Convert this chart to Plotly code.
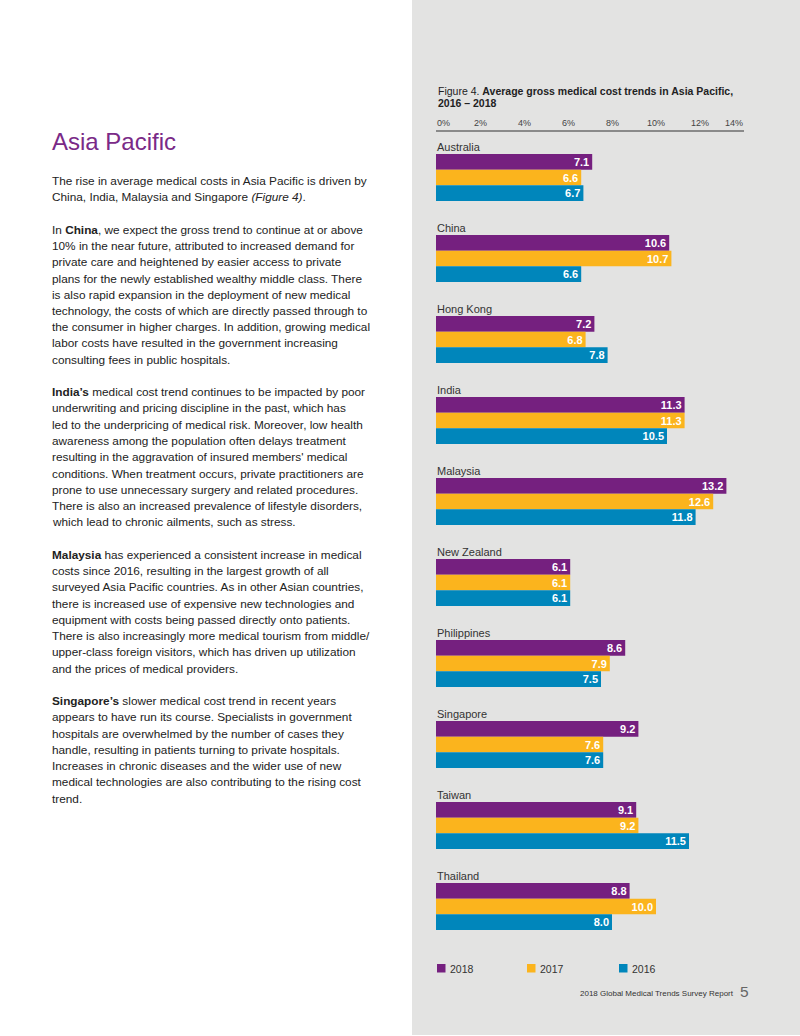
import plotly.graph_objects as go

W, H = 800, 1036
FONT = "Liberation Sans, Arial, sans-serif"

# ---------------- data ----------------
countries = ["Australia", "China", "Hong Kong", "India", "Malaysia",
             "New Zealand", "Philippines", "Singapore", "Taiwan", "Thailand"]
v2018 = [7.1, 10.6, 7.2, 11.3, 13.2, 6.1, 8.6, 9.2, 9.1, 8.8]
v2017 = [6.6, 10.7, 6.8, 11.3, 12.6, 6.1, 7.9, 7.6, 9.2, 10.0]
v2016 = [6.7, 6.6, 7.8, 10.5, 11.8, 6.1, 7.5, 7.6, 11.5, 8.0]
years = ["2018", "2017", "2016"]
colors = ["#75207f", "#fbb41d", "#0086bb"]
tick_vals = [0, 2, 4, 6, 8, 10, 12, 14]
tick_text = ["0%", "2%", "4%", "6%", "8%", "10%", "12%", "14%"]

body_lines = [
    "The rise in average medical costs in Asia Pacific is driven by",
    "China, India, Malaysia and Singapore <i>(Figure 4)</i>.",
    "",
    "In <b>China</b>, we expect the gross trend to continue at or above",
    "10% in the near future, attributed to increased demand for",
    "private care and heightened by easier access to private",
    "plans for the newly established wealthy middle class. There",
    "is also rapid expansion in the deployment of new medical",
    "technology, the costs of which are directly passed through to",
    "the consumer in higher charges. In addition, growing medical",
    "labor costs have resulted in the government increasing",
    "consulting fees in public hospitals.",
    "",
    "<b>India’s</b> medical cost trend continues to be impacted by poor",
    "underwriting and pricing discipline in the past, which has",
    "led to the underpricing of medical risk. Moreover, low health",
    "awareness among the population often delays treatment",
    "resulting in the aggravation of insured members' medical",
    "conditions. When treatment occurs, private practitioners are",
    "prone to use unnecessary surgery and related procedures.",
    "There is also an increased prevalence of lifestyle disorders,",
    "which lead to chronic ailments, such as stress.",
    "",
    "<b>Malaysia</b> has experienced a consistent increase in medical",
    "costs since 2016, resulting in the largest growth of all",
    "surveyed Asia Pacific countries. As in other Asian countries,",
    "there is increased use of expensive new technologies and",
    "equipment with costs being passed directly onto patients.",
    "There is also increasingly more medical tourism from middle/",
    "upper-class foreign visitors, which has driven up utilization",
    "and the prices of medical providers.",
    "",
    "<b>Singapore’s</b> slower medical cost trend in recent years",
    "appears to have run its course. Specialists in government",
    "hospitals are overwhelmed by the number of cases they",
    "handle, resulting in patients turning to private hospitals.",
    "Increases in chronic diseases and the wider use of new",
    "medical technologies are also contributing to the rising cost",
    "trend.",
]


def py(p):
    return 1 - p / H


def px(p):
    return p / W


fig = go.Figure()
for name, vals, col in zip(years, [v2018, v2017, v2016], colors):
    fig.add_trace(go.Bar(
        y=countries, x=vals, name=name, orientation="h",
        marker=dict(color=col, line=dict(width=0)),
        texttemplate="%{x:.1f}", textposition="inside", insidetextanchor="end",
        constraintext="none",
        textfont=dict(color="white", size=11, family=FONT, weight=700),
        cliponaxis=False,
    ))

annotations = []
# chart title
annotations.append(dict(xref="paper", yref="paper", x=px(436), y=py(91), xanchor="left", yanchor="middle",
                        text="Figure 4. <b>Average gross medical cost trends in Asia Pacific,</b>",
                        showarrow=False, font=dict(family=FONT, size=10.5, color="#222222")))
annotations.append(dict(xref="paper", yref="paper", x=px(436), y=py(103), xanchor="left", yanchor="middle",
                        text="<b>2016 – 2018</b>",
                        showarrow=False, font=dict(family=FONT, size=10.5, color="#222222")))
# tick labels
for i, (tv, tt) in enumerate(zip(tick_vals, tick_text)):
    anchor = "left" if i == 0 else ("right" if i == len(tick_vals) - 1 else "center")
    annotations.append(dict(xref="x", yref="paper", x=tv, y=py(123), xanchor=anchor, yanchor="middle",
                            text=tt, showarrow=False, borderpad=0,
                            font=dict(family=FONT, size=9, color="#444444")))
# category labels
for c in countries:
    annotations.append(dict(xref="x", yref="y", x=0, y=c, yshift=30.5, xanchor="left", yanchor="middle",
                            text=c, showarrow=False, borderpad=0,
                            font=dict(family=FONT, size=11, color="#333333")))
# legend
legend_x = [437, 527, 619]
shapes = [dict(type="rect", xref="paper", yref="paper", x0=px(412), x1=1, y0=py(1035), y1=1,
               fillcolor="#e3e3e2", line=dict(width=0), layer="below")]
for lx, yr, col in zip(legend_x, years, colors):
    shapes.append(dict(type="rect", xref="paper", yref="paper", x0=px(lx), x1=px(lx + 8.5),
                       y0=py(972.5), y1=py(964), fillcolor=col, line=dict(width=0)))
    annotations.append(dict(xref="paper", yref="paper", x=px(lx + 11.5), y=py(968.5), xanchor="left",
                            yanchor="middle", text=yr, showarrow=False, borderpad=0,
                            font=dict(family=FONT, size=10.5, color="#333333")))
# footer
annotations.append(dict(xref="paper", yref="paper", x=px(735), y=py(993), xanchor="right", yanchor="middle",
                        text="2018 Global Medical Trends Survey Report", showarrow=False, borderpad=0,
                        font=dict(family=FONT, size=8, color="#333333")))
annotations.append(dict(xref="paper", yref="paper", x=px(739), y=py(991), xanchor="left", yanchor="middle",
                        text="5", showarrow=False, borderpad=0,
                        font=dict(family=FONT, size=15.5, color="#666666", weight=300)))
# left column
annotations.append(dict(xref="paper", yref="paper", x=px(51), y=py(141.5), xanchor="left", yanchor="middle",
                        text="Asia Pacific", showarrow=False, borderpad=0,
                        font=dict(family=FONT, size=24, color="#7a2a87")))
for k, line in enumerate(body_lines):
    if not line:
        continue
    annotations.append(dict(xref="paper", yref="paper", x=px(51), y=py(181 + 16.25 * k), xanchor="left",
                            yanchor="middle", text=line, showarrow=False, borderpad=0,
                            font=dict(family=FONT, size=11.8, color="#222222")))

fig.update_layout(
    width=W, height=H,
    margin=dict(l=0, r=0, t=0, b=0),
    paper_bgcolor="white", plot_bgcolor="rgba(0,0,0,0)",
    barmode="group", bargap=0.42, bargroupgap=0.0,
    showlegend=False,
    xaxis=dict(range=[0, 14], domain=[px(436), px(744)], side="top", anchor="free", position=py(131),
               showline=True, linecolor="#8a8a8a", linewidth=1.5, showgrid=False, zeroline=False,
               showticklabels=False, ticks="", fixedrange=True),
    yaxis=dict(type="category", autorange="reversed", domain=[py(947), py(137)], visible=False,
               fixedrange=True),
    annotations=annotations,
    shapes=shapes,
    font=dict(family=FONT),
)

fig.write_html("out.html", config={"displayModeBar": False},
               post_script="document.body.style.margin='0';document.body.style.overflow='hidden';")
